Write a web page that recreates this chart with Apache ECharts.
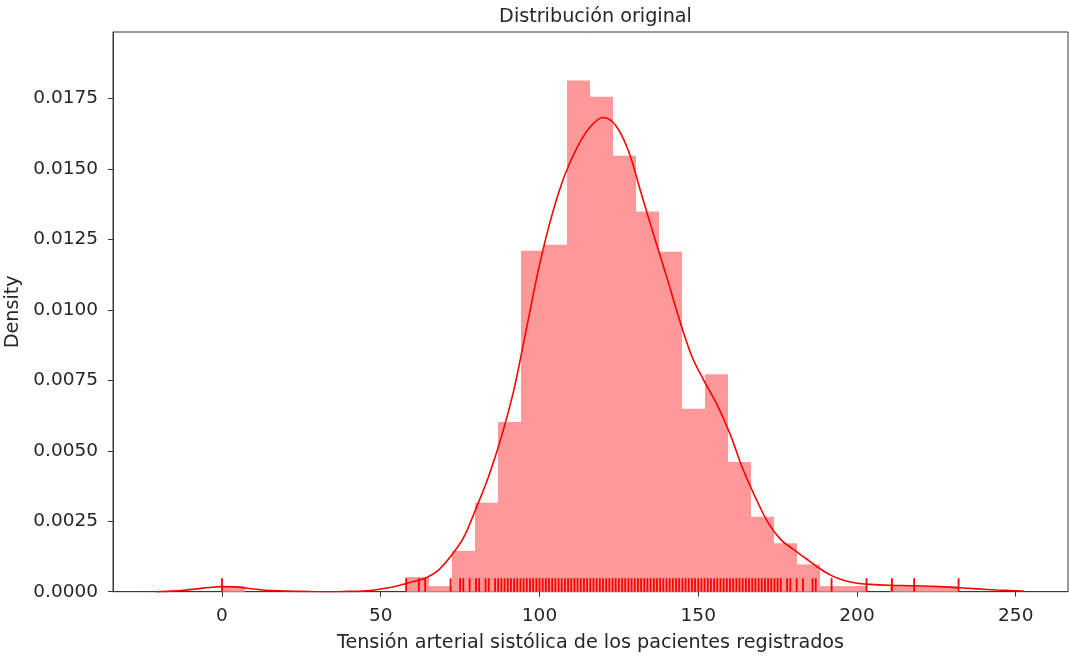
<!DOCTYPE html>
<html>
<head>
<meta charset="utf-8">
<title>Distribución original</title>
<script src="https://cdn.jsdelivr.net/npm/echarts@6/dist/echarts.min.js"></script>
<style>
  html, body { margin: 0; padding: 0; background: #ffffff; }
  #chart { width: 1070px; height: 656px; }
</style>
</head>
<body>
<div id="chart"></div>
<script>
// Histogram bin edges (mmHg) and normalised bar heights (density)
const binEdges = [0, 7.25, 14.5, 21.75, 29, 36.25, 43.5, 50.75, 58, 65.25, 72.5,
  79.75, 87, 94.25, 101.5, 108.75, 116, 123.25, 130.5, 137.75, 145, 152.25,
  159.5, 166.75, 174, 181.25, 188.5, 195.75, 203, 210.25, 217.5, 224.75, 232];
const binDensity = [0.0002, 0, 0, 0, 0, 0, 0, 0, 0.00052, 0.0002, 0.00145,
  0.00316, 0.00602, 0.0121, 0.01231, 0.01814, 0.01757, 0.01547, 0.01349,
  0.01207, 0.00649, 0.00772, 0.0046, 0.00266, 0.00172, 0.00097, 0.0002,
  0.0002, 0, 0.0002, 0.0002, 0.0002];

// Kernel density estimate: sample positions and density values
const kdeX = [-21, -16, -12, -8, -4, 0, 4, 8, 12, 16, 20, 25, 30, 36, 40, 44,
  48, 52, 56, 60, 64, 68, 72, 76, 80, 84, 88, 92, 96, 100, 104, 108, 112, 116,
  120, 124, 128, 132, 136, 140, 144, 148, 152, 156, 160, 164, 168, 172, 176,
  180, 184, 188, 192, 196, 200, 204, 210, 218, 226, 232, 238, 244, 248, 252.5];
const kdeY = [0, 0.00002, 0.00005, 0.0001, 0.00015, 0.00018, 0.00017, 0.00012,
  0.00007, 0.00004, 0.00002, 0.00001, 0, 0, 0.00001, 0.00002, 0.00006,
  0.00013, 0.00023, 0.00035, 0.00048, 0.00075, 0.00125, 0.0019, 0.00295,
  0.0041, 0.0055, 0.0072, 0.0094, 0.0116, 0.0134, 0.0148, 0.0158, 0.0165,
  0.01683, 0.01655, 0.01565, 0.01415, 0.01265, 0.0112, 0.00968, 0.00835,
  0.00745, 0.00662, 0.0056, 0.00437, 0.00335, 0.00245, 0.00185, 0.0015,
  0.00117, 0.00084, 0.00057, 0.0004, 0.0003, 0.00026, 0.00023, 0.00021,
  0.00018, 0.00014, 0.0001, 0.00006, 0.00004, 0.00002];

// Individual observations shown as rug ticks
const rugValues = [0, 58, 62, 64, 72, 75, 76, 78, 80, 81, 83, 84, 86, 87, 88,
  89, 90, 91, 92, 93, 94, 95, 96, 97, 98, 99, 100, 101, 102, 103, 104, 105,
  106, 107, 108, 109, 110, 111, 112, 113, 114, 115, 116, 117, 118, 119, 120,
  121, 122, 123, 124, 125, 126, 127, 128, 129, 130, 131, 132, 133, 134, 135,
  136, 137, 138, 139, 140, 141, 142, 143, 144, 145, 146, 147, 148, 149, 150,
  151, 152, 153, 154, 155, 156, 157, 158, 159, 160, 161, 162, 163, 164, 165,
  166, 167, 168, 169, 170, 171, 172, 173, 174, 175, 176, 178, 179, 181, 183,
  186, 187, 192, 203, 211, 218, 232];

// Axis tick labels
const xTicks = [0, 50, 100, 150, 200, 250];
const yTicks = [0, 0.0025, 0.005, 0.0075, 0.01, 0.0125, 0.015, 0.0175];

const FONT = 'DejaVu Sans';
const TXT = '#262626';
const FRAME = '#3a3a3a';
const TICK_SIZE = 18.5;
const LABEL_SIZE = 19.2;

const histData = binDensity.map((d, i) => [binEdges[i], binEdges[i + 1], d]);
const kdeData = kdeX.map((x, i) => [x, kdeY[i]]);
const rugData = rugValues.map(v => [v]);

const chart = echarts.init(document.getElementById('chart'), null, { renderer: 'canvas' });

chart.setOption({
  animation: false,
  backgroundColor: '#ffffff',
  title: {
    text: 'Distribución original',
    left: 590.5,
    top: 3,
    textAlign: 'center',
    textStyle: { fontFamily: FONT, fontSize: LABEL_SIZE, fontWeight: 'normal', color: TXT }
  },
  grid: {
    left: 113, right: 2, top: 32, bottom: 64.3,
    outerBoundsMode: 'none',
    containLabel: false,
    show: true, borderColor: FRAME, borderWidth: 1, backgroundColor: 'transparent'
  },
  xAxis: {
    type: 'value',
    min: -34.33,
    max: 266.46,
    name: 'Tensión arterial sistólica de los pacientes registrados',
    nameLocation: 'middle',
    nameGap: 42,
    nameTextStyle: { fontFamily: FONT, fontSize: LABEL_SIZE, color: TXT },
    splitLine: { show: false },
    axisLine: { show: true, onZero: false, lineStyle: { color: FRAME, width: 1 } },
    axisTick: { show: true, length: 5, lineStyle: { color: FRAME, width: 1 }, customValues: xTicks },
    axisLabel: {
      fontFamily: FONT, fontSize: TICK_SIZE, color: TXT, margin: 15,
      customValues: xTicks
    }
  },
  yAxis: {
    type: 'value',
    min: 0,
    max: 0.019865,
    name: 'Density',
    nameLocation: 'middle',
    nameRotate: 90,
    nameGap: 87,
    nameTextStyle: { fontFamily: FONT, fontSize: LABEL_SIZE, color: TXT },
    splitLine: { show: false },
    axisLine: { show: true, onZero: false, lineStyle: { color: FRAME, width: 1 } },
    axisTick: { show: true, length: 5, lineStyle: { color: FRAME, width: 1 }, customValues: yTicks },
    axisLabel: {
      fontFamily: FONT, fontSize: TICK_SIZE, color: TXT, margin: 15,
      customValues: yTicks,
      formatter: v => v.toFixed(4)
    }
  },
  series: [
    {
      type: 'custom',
      name: 'hist',
      data: histData,
      z: 1,
      renderItem: (params, api) => {
        const p0 = api.coord([api.value(0), 0]);
        const p1 = api.coord([api.value(1), api.value(2)]);
        const x0 = Math.round(p0[0]);
        const x1 = Math.round(p1[0]);
        return {
          type: 'rect',
          shape: { x: x0, y: p1[1], width: x1 - x0, height: p0[1] - p1[1] },
          style: { fill: '#ff9999' }
        };
      }
    },
    {
      type: 'line',
      name: 'kde',
      data: kdeData,
      z: 3,
      showSymbol: false,
      smooth: 0.35,
      lineStyle: { color: '#ff0000', width: 1.6 }
    },
    {
      type: 'custom',
      name: 'rug',
      data: rugData,
      z: 4,
      renderItem: (params, api) => {
        const p = api.coord([api.value(0), 0]);
        return {
          type: 'line',
          shape: { x1: p[0], y1: p[1], x2: p[0], y2: p[1] - 13.5 },
          style: { stroke: '#ff0000', lineWidth: 1.8 }
        };
      }
    }
  ]
});
</script>
</body>
</html>
